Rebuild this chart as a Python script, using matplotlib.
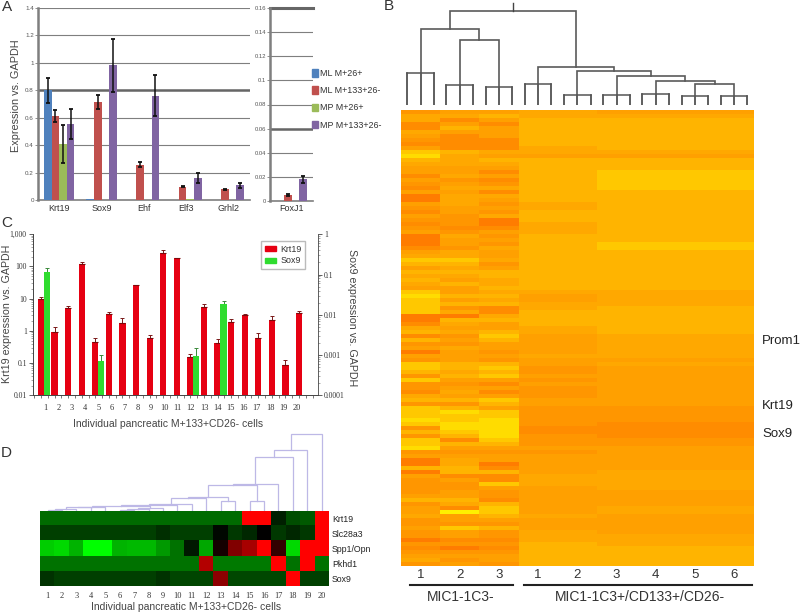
import numpy as np
import matplotlib
matplotlib.use('Agg')
import matplotlib.pyplot as plt
from matplotlib.colors import ListedColormap, LinearSegmentedColormap
from matplotlib.patches import Patch
from matplotlib.ticker import FixedLocator, NullFormatter

W, H = 800, 613
SANS = 'Liberation Sans'
SERIF = 'Liberation Serif'
plt.rcParams['font.family'] = SANS

# ---------- Panel A data
genes_a = ['Krt19', 'Sox9', 'Ehf', 'Elf3', 'Grhl2']
series_a = ['ML M+26+', 'ML M+133+26-', 'MP M+26+', 'MP M+133+26-']
colors_a = ['#4F81BD', '#C0504D', '#9BBB59', '#8064A2']
ml26 = [0.80, 0.01, 0, 0, 0]
ml133 = [0.615, 0.715, 0.26, 0.10, 0.08]
mp26 = [0.41, 0, 0, 0.01, 0]
mp133 = [0.555, 0.98, 0.76, 0.165, 0.11]
ml26_err = [0.09, 0, 0, 0, 0]
ml133_err = [0.045, 0.05, 0.02, 0.005, 0.005]
mp26_err = [0.14, 0, 0, 0, 0]
mp133_err = [0.11, 0.195, 0.15, 0.035, 0.02]
foxj1_vals = [0, 0.005, 0, 0.018]
foxj1_errs = [0, 0.001, 0, 0.003]
yticks_a = [0, 0.2, 0.4, 0.6, 0.8, 1, 1.2, 1.4]
yticks_a2 = [0, 0.02, 0.04, 0.06, 0.08, 0.1, 0.12, 0.14, 0.16]
ylabels_a2 = ['0', '0.02', '0.04', '0.06', '0.08', '0.1', '0.12', '0.14', '0.16']

# ---------- Panel C data
cells = list(range(1, 21))
krt19_c = [10, 0.9, 5, 120, 0.45, 3.3, 1.8, 26, 0.62, 270, 180, 0.15, 5.7, 0.42, 1.9, 3, 0.62, 2.1, 0.088, 3.5]
krt19_c_top = [11.5, 1.3, 5.8, 135, 0.6, 3.8, 2.5, 27, 0.72, 330, 190, 0.19, 6.7, 0.55, 2.3, 3.3, 0.85, 2.9, 0.12, 4.1]
sox9_cells = [1, 5, 12, 14]
sox9_c = [0.113, 0.00072, 0.00093, 0.018]
sox9_c_top = [0.148, 0.00098, 0.0015, 0.022]

# ---------- Panel D data
genes_d = ['Krt19', 'Slc28a3', 'Spp1/Opn', 'Pkhd1', 'Sox9']
krt19_d = [-.42]*14 + [1, 1, -.12, -.3, -.35, 1]
slc28a3_d = [-.25]*8 + [-.18, -.25, -.25, -.25, -.03, -.22, -.15, 0, -.22, -.15, -.22, 1]
spp1_d = [-.8, -.85, -.7, -1, -1, -.7, -.72, -.72, -.6, -.45, -.1, -.65, .08, .5, .65, 1, .2, -.85, 1, 1]
pkhd1_d = [-.45]*11 + [.7, -.47, -.47, -.47, -.47, 1, -.45, 1, -.45]
sox9_d = [-.2] + [-.25]*7 + [-.2, -.27, -.27, -.27, .55, -.28, -.28, -.28, -.28, 1, -.25, -.25]
# dendrogram D: (left node, right node, height); leaves are 0..19, merged nodes from 20 up
merges_d = [(0, 1, 1), (20, 2, 1.5), (21, 3, 3.3), (22, 4, 4), (5, 6, 1), (24, 7, 2), (25, 8, 2.5),
            (23, 26, 4.5), (27, 9, 5.5), (28, 10, 6.7), (29, 11, 13), (12, 13, 10), (30, 31, 14),
            (14, 15, 10), (32, 33, 25.7), (34, 16, 26.7), (35, 17, 54), (36, 18, 61), (37, 19, 76.7)]

# ---------- Panel B data (0 = yellow ... 9 = red-orange; one digit per row)
col1_b = ("64477456752134557567588567567" "658887542353434521222288743736"
          "585622362667436222126362216" "5883856666536554665668676546")
col2_b = ("54753577773444554654544455666" "764556442343453553536483454656"
          "455533435654536312211237356" "5443375665534705562557686565")
col3_b = ("53575557774534575764745656488" "756564554653344343437743553235"
          "565632325757523522111112356" "5587377256673223563667676556")
cols45_b = ("44333333344533333333333443334" "443333333333333345544333344555"
            "554556656566655666667766656" "5555544455555554555444333333")
cols69_b = ("54333333334533322222333333333" "333322333333333344443333333444"
            "444545555555555666677776655" "5555444445555445555544433333")
sample_labels = ['1', '2', '3', '1', '2', '3', '4', '5', '6']
triad_heights = [32, 20, 18, 21, 10, 10, 11, 9.5, 9.5]
# dendrogram B: nodes 0..8 are the triads
merges_b = [(1, 2, 65), (0, 9, 76), (7, 8, 21.5), (6, 11, 24), (5, 12, 28.7), (4, 13, 33.7), (3, 14, 38), (10, 15, 93.7)]


def ax_px(l, t, r, b, **kw):
    return fig.add_axes([l/W, 1-b/H, (r-l)/W, (b-t)/H], **kw)


def txt(x, y, s, **kw):
    kw.setdefault('ha', 'center')
    kw.setdefault('va', 'center')
    fig.text(x/W, 1-y/H, s, **kw)


def draw_tree(ax, merges, pos, heights, color, lw):
    pos = dict(pos)
    heights = dict(heights)
    n = len(pos)
    for i, (a, b, h) in enumerate(merges):
        ax.plot([pos[a], pos[a], pos[b], pos[b]], [heights[a], h, h, heights[b]], color=color, lw=lw, solid_joinstyle='miter')
        pos[n+i] = (pos[a]+pos[b])/2
        heights[n+i] = h
    return pos, heights


fig = plt.figure(figsize=(W/100, H/100), dpi=100)

# ---------- Panel A left
GRAY = '#7f7f7f'
axa = ax_px(38, 7.5, 250, 200.5)
x = np.arange(5)
offs = [-.27, -.09, .09, .27]
for off, v, e, c in zip(offs, [ml26, ml133, mp26, mp133], [ml26_err, ml133_err, mp26_err, mp133_err], colors_a):
    axa.bar(x+off, v, .18, color=c, zorder=3)
    mask = np.array(e) > 0
    axa.errorbar((x+off)[mask], np.array(v)[mask], yerr=np.array(e)[mask], fmt='none', ecolor='#111', elinewidth=1.1, capsize=1.6, capthick=1.3, zorder=4)
axa.set_xlim(-.5, 4.5)
axa.set_ylim(0, 1.4)
axa.set_yticks(yticks_a)
axa.set_yticklabels(['0', '0.2', '0.4', '0.6', '0.8', '1', '1.2', '1.4'], fontsize=4.5, color='#555')
axa.set_xticks(x)
axa.set_xticklabels(genes_a, fontsize=6.5, color='#333')
axa.tick_params(axis='y', length=2, width=.6, color=GRAY, pad=1)
axa.tick_params(axis='x', length=0, pad=2.5)
axa.grid(axis='y', color=GRAY, lw=.8, zorder=0)
axa.axhline(0.8, color='#666', lw=1.8, zorder=1)
for s in ['top', 'right']:
    axa.spines[s].set_visible(False)
axa.spines['left'].set_color(GRAY)
axa.spines['left'].set_linewidth(1.8)
axa.spines['bottom'].set_color(GRAY)
axa.spines['bottom'].set_linewidth(1.2)
axa.set_axisbelow(True)

# ---------- Panel A right
axb = ax_px(270, 8, 313, 201)
for off, v, e, c in zip(offs, foxj1_vals, foxj1_errs, colors_a):
    if v > 0:
        axb.bar(off, v, .18, color=c, zorder=3)
        axb.errorbar(off, v, yerr=e, fmt='none', ecolor='#111', elinewidth=1.1, capsize=1.6, capthick=1.3, zorder=4)
axb.set_xlim(-.5, .5)
axb.set_ylim(0, .16)
axb.set_yticks(yticks_a2)
axb.set_yticklabels(ylabels_a2, fontsize=4.2, color='#555')
axb.set_xticks([0])
axb.set_xticklabels(['FoxJ1'], fontsize=6.5, color='#333')
axb.tick_params(axis='y', length=2, width=.6, color=GRAY, pad=1)
axb.tick_params(axis='x', length=0, pad=2.5)
axb.grid(axis='y', color=GRAY, lw=.8, zorder=0)
axb.axhline(0.16, color='#666', lw=2.2, clip_on=False, zorder=1)
axb.axhline(0.06, color='#666', lw=1.8, zorder=1)
for s in ['top', 'right']:
    axb.spines[s].set_visible(False)
axb.spines['left'].set_color(GRAY)
axb.spines['left'].set_linewidth(1.8)
axb.spines['bottom'].set_color(GRAY)
axb.spines['bottom'].set_linewidth(1.2)
axb.set_axisbelow(True)

fig.legend(handles=[Patch(color=c, label=s) for c, s in zip(colors_a, series_a)],
           loc='upper left', bbox_to_anchor=(312/W, 1-69/H), frameon=False, fontsize=6.4,
           handlelength=.7, handleheight=.9, handletextpad=.25, labelspacing=.92, borderpad=0, borderaxespad=0,
           labelcolor='#333')
txt(16, 96, 'Expression vs. GAPDH', rotation=90, fontsize=7.8, color='#444')

# ---------- Panel C
RED, GREEN = '#E60012', '#2FDC2F'
PXC = 13.58
axc = ax_px(33, 234.3, 318, 395.2)
axd = axc.twinx()
cx = np.array(cells, float)
axc.bar(cx, krt19_c, .46, bottom=0, color=RED, zorder=3, label='Krt19')
axc.errorbar(cx, krt19_c, yerr=[np.zeros(20), np.array(krt19_c_top)-np.array(krt19_c)], fmt='none',
             ecolor='#7a1a1a', elinewidth=.7, capsize=1.6, capthick=.7, zorder=2)
axc.plot(cx, krt19_c, ls='none', marker='_', ms=4.5, mew=.8, color='#7a0a0a', zorder=4)
axc.set_yscale('log')
axc.set_ylim(.01, 1000)
axc.set_xlim(1-8/PXC, 1+277/PXC)
axc.set_yticks([.01, .1, 1, 10, 100, 1000])
axc.set_yticklabels(['0.01', '0.1', '1', '10', '100', '1,000'], fontsize=5.5, family=SERIF, color='#333')
axc.yaxis.set_minor_formatter(NullFormatter())
axc.tick_params(axis='y', which='major', length=3, width=.6, pad=1.5, color='#444')
axc.tick_params(axis='y', which='minor', length=1.5, width=.4, color='#666')
label_x = (45.7 + 13.2*(cx-1) - 41)/PXC + 1
axc.set_xticks(label_x)
axc.set_xticklabels([str(c) for c in cells], fontsize=6, family=SERIF, color='#333')
axc.tick_params(axis='x', which='major', length=0, pad=6.5)
axc.xaxis.set_minor_locator(FixedLocator(np.arange(.5, 21.6, .5)))
axc.tick_params(axis='x', which='minor', length=2.5, width=.5, color='#444')

sx = np.array(sox9_cells, float)+.44
axd.bar(sx, sox9_c, .46, bottom=0, color=GREEN, zorder=3, label='Sox9')
axd.errorbar(sx, sox9_c, yerr=[np.zeros(4), np.array(sox9_c_top)-np.array(sox9_c)], fmt='none',
             ecolor='#3a8a3a', elinewidth=.7, capsize=1.6, capthick=.7, zorder=2)
axd.set_yscale('log')
axd.set_ylim(.0001, 1)
axd.set_yticks([.0001, .001, .01, .1, 1])
axd.set_yticklabels(['0.0001', '0.001', '0.01', '0.1', '1'], fontsize=5.5, family=SERIF, color='#333')
axd.yaxis.set_minor_formatter(NullFormatter())
axd.tick_params(axis='y', which='major', length=3, width=.6, pad=1.5, color='#444')
axd.tick_params(axis='y', which='minor', length=1.5, width=.4, color='#666')
for a in (axc, axd):
    a.spines['top'].set_visible(False)
    for s in a.spines.values():
        s.set_linewidth(.6)
        s.set_color('#444')
axc.spines['right'].set_visible(False)
axc.set_zorder(2)
axd.set_zorder(3)
axd.patch.set_visible(False)
fig.legend(handles=[Patch(color=RED, label='Krt19'), Patch(color=GREEN, label='Sox9')],
           loc='upper left', bbox_to_anchor=(261/W, 1-241/H), fontsize=6.4, frameon=True, fancybox=False,
           edgecolor='#bbb', framealpha=1, handlelength=1.3, handleheight=.5, handletextpad=.5,
           labelspacing=.3, borderpad=.4, borderaxespad=0, labelcolor='#333').set_zorder(5)
txt(7, 314, 'Krt19 expression vs. GAPDH', rotation=90, fontsize=7.7, color='#444')
txt(352, 318, 'Sox9 expression vs. GAPDH', rotation=270, fontsize=7.7, color='#444')
txt(168, 424, 'Individual pancreatic M+133+CD26- cells', fontsize=7.5, color='#444')

# ---------- Panel D
gm = LinearSegmentedColormap.from_list('gkr', ['#00FF00', '#000000', '#FF0000'])
axh = ax_px(40.3, 510.7, 329, 586)
axh.imshow(np.array([krt19_d, slc28a3_d, spp1_d, pkhd1_d, sox9_d]), cmap=gm, vmin=-1, vmax=1, aspect='auto', interpolation='nearest')
axh.set_xticks(np.arange(20))
axh.set_xticklabels([str(c) for c in cells], fontsize=6, family=SERIF, color='#333')
axh.set_yticks(np.arange(5))
axh.set_yticklabels(genes_d, fontsize=6.3, color='#222')
axh.yaxis.tick_right()
axh.tick_params(length=0, pad=2)
axh.tick_params(axis='x', pad=4)
for s in axh.spines.values():
    s.set_visible(False)
txt(186, 607, 'Individual pancreatic M+133+CD26- cells', fontsize=7.5, color='#444')

axt = ax_px(40.3, 425, 329, 510.7)
axt.set_xlim(-.5, 19.5)
axt.set_ylim(0, 85.7)
axt.axis('off')
draw_tree(axt, merges_d, {i: i for i in range(20)}, {i: 0 for i in range(20)}, '#BDB8E6', .9)

# ---------- Panel B
digit_colors = ['#FFF000', '#FFDC00', '#FFC800', '#FFB400', '#FFA800', '#FFA000', '#FF9600', '#FF8C00', '#FF7C00', '#FF6000']
def rows(s):
    return [int(c) for c in s]
c1, c2, c3 = rows(col1_b), rows(col2_b), rows(col3_b)
r1, r2 = rows(cols45_b), rows(cols69_b)
n = min(len(c1), len(c2), len(c3), len(r1), len(r2))
grid = np.array([c[:n] for c in (c1, c2, c3, r1, r1, r2, r2, r2, r2)]).T
axm = ax_px(401, 110, 753.7, 566)
axm.imshow(grid, cmap=ListedColormap(digit_colors), vmin=-.5, vmax=9.5, aspect='auto', interpolation='nearest')
axm.set_xticks(np.arange(9))
axm.set_xticklabels(sample_labels, fontsize=9.5, color='#333')
axm.set_yticks([])
axm.tick_params(length=0, pad=2.5)
for s in axm.spines.values():
    s.set_visible(False)

axu = ax_px(401, 0, 753.7, 105)
axu.set_xlim(-.5, 8.5)
axu.set_ylim(0, 105)
axu.axis('off')
for i, h in enumerate(triad_heights):
    axu.plot([i-.34, i-.34], [0, h], color='#333', lw=1.1)
    axu.plot([i, i], [0, h], color='#333', lw=1.1)
    axu.plot([i+.34, i+.34], [0, h], color='#333', lw=1.1)
    axu.plot([i-.34, i+.34], [h, h], color='#555', lw=1.1)
pos, hts = draw_tree(axu, merges_b, {i: i for i in range(9)}, dict(enumerate(triad_heights)), '#5a5a5a', 1.2)
root = len(pos)-1
axu.plot([pos[root]]*2, [hts[root], 101.7], color='#444', lw=1)

line = fig.add_axes([0, 0, 1, 1], facecolor='none')
line.set_xlim(0, W)
line.set_ylim(H, 0)
line.axis('off')
line.plot([410, 513], [585, 585], color='#222', lw=1.5)
line.plot([524, 752], [585, 585], color='#222', lw=1.5)
txt(461, 597, 'MIC1-1C3-', fontsize=10, color='#333')
txt(640, 597, 'MIC1-1C3+/CD133+/CD26-', fontsize=10, color='#333')
for y, s in [(341, 'Prom1'), (406, 'Krt19'), (434, 'Sox9')]:
    txt(762, y, s, ha='left', fontsize=9.5, color='#222')
for x0, y0, s in [(7, 7, 'A'), (389, 6, 'B'), (7, 223, 'C'), (6, 453, 'D')]:
    txt(x0, y0, s, fontsize=11, color='#333')

fig.savefig('out.png', dpi=100)
